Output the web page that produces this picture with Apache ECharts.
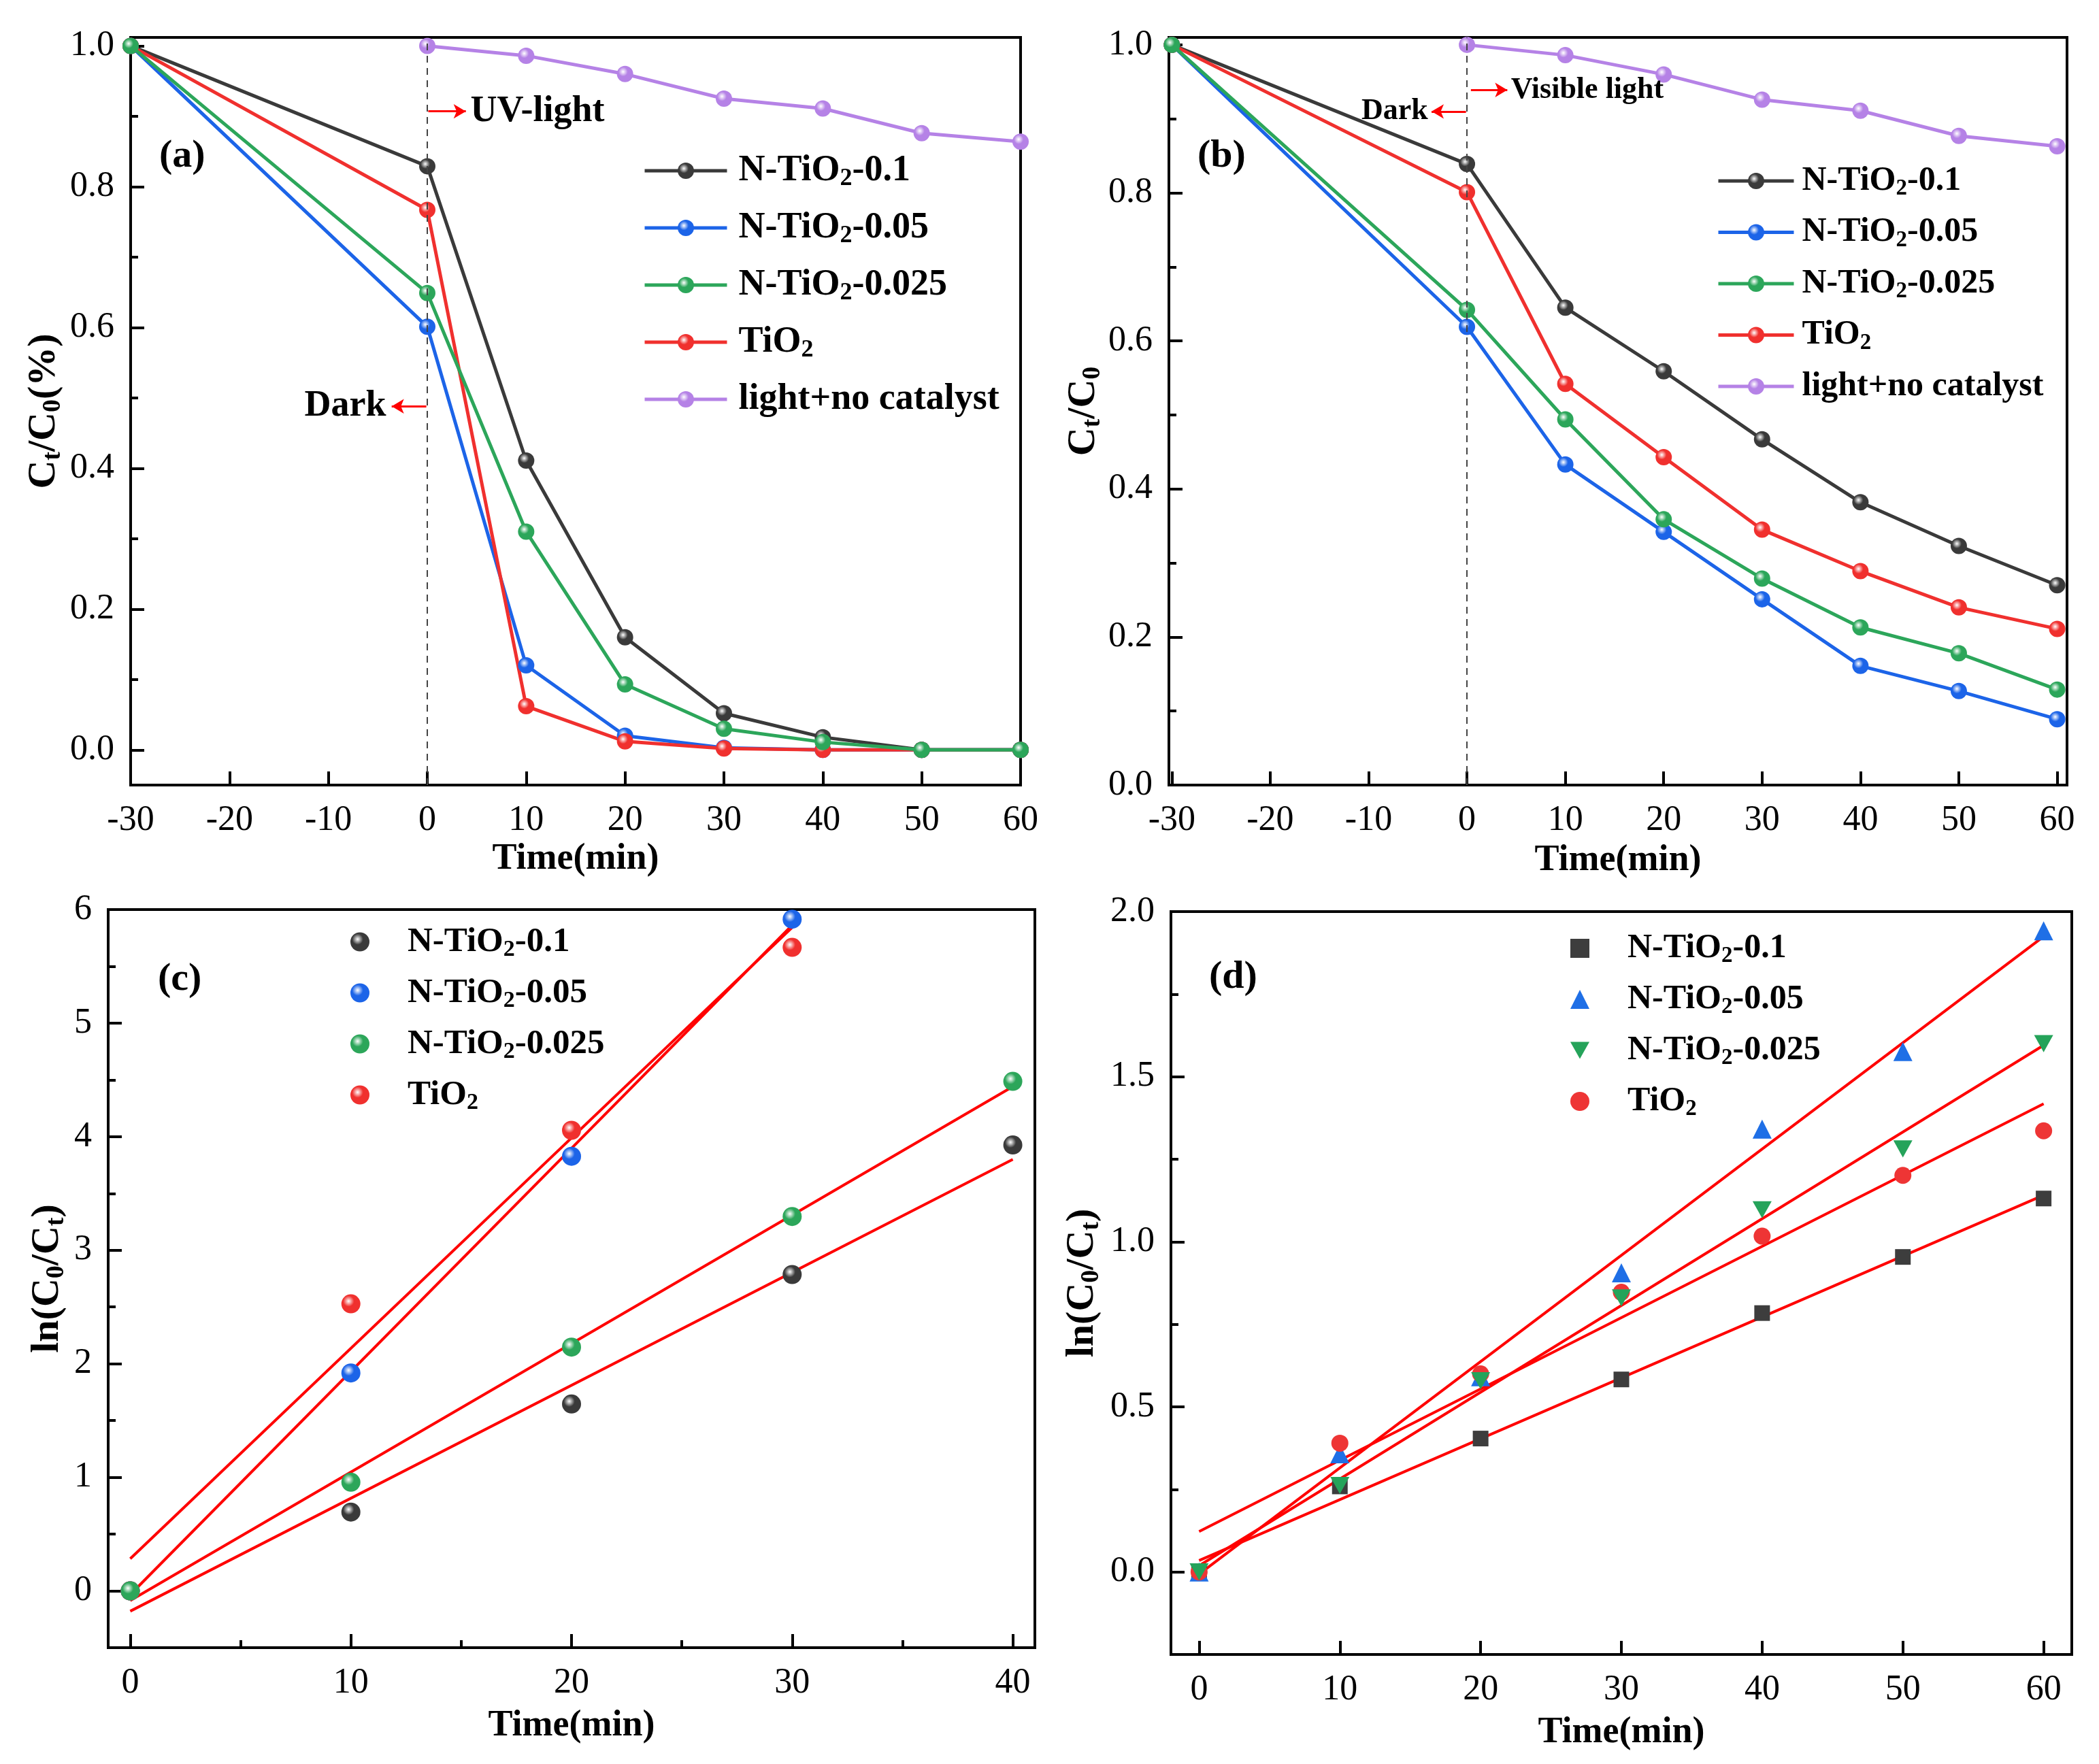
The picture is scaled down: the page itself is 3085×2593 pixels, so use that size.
<!DOCTYPE html>
<html><head><meta charset="utf-8">
<script src="https://cdn.jsdelivr.net/npm/echarts@6/dist/echarts.min.js"></script>
<style>html,body{margin:0;padding:0;background:#fff}#c{width:3085px;height:2593px}</style>
</head><body><div id="c"></div>
<script>
// ---------------- data ----------------
const seriesNames = ['N-TiO2-0.1', 'N-TiO2-0.05', 'N-TiO2-0.025', 'TiO2', 'light+no catalyst'];

// panel (a) UV light
const timeA = [-30, 0, 10, 20, 30, 40, 50, 60];
const aN01 = [1.0, 0.829, 0.411, 0.160, 0.052, 0.018, 0.0, 0.0];
const aN005 = [1.0, 0.601, 0.120, 0.020, 0.003, 0.0, 0.0, 0.0];
const aN0025 = [1.0, 0.649, 0.310, 0.093, 0.030, 0.011, 0.0, 0.0];
const aTiO2 = [1.0, 0.767, 0.062, 0.012, 0.002, 0.0, 0.0, 0.0];
const timeNoCat = [0, 10, 20, 30, 40, 50, 60];
const aNoCat = [1.0, 0.986, 0.960, 0.925, 0.911, 0.876, 0.864];

// panel (b) visible light
const timeB = [-30, 0, 10, 20, 30, 40, 50, 60];
const bN01 = [1.0, 0.839, 0.645, 0.559, 0.467, 0.382, 0.323, 0.270];
const bN005 = [1.0, 0.619, 0.433, 0.342, 0.251, 0.161, 0.127, 0.089];
const bN0025 = [1.0, 0.642, 0.494, 0.359, 0.279, 0.213, 0.178, 0.129];
const bTiO2 = [1.0, 0.801, 0.542, 0.443, 0.345, 0.289, 0.240, 0.211];
const bNoCat = [1.0, 0.986, 0.960, 0.926, 0.911, 0.877, 0.863];

// panel (c) kinetics UV
const timeC4 = [0, 10, 20, 30, 40];
const timeC3 = [0, 10, 20, 30];
const cN01 = [0, 0.694, 1.646, 2.786, 3.927];
const cN005 = [0, 1.919, 3.827, 5.915];
const cN0025 = [0, 0.957, 2.147, 3.297, 4.487];
const cTiO2 = [0, 2.528, 4.056, 5.667];

// panel (d) kinetics visible
const timeD = [0, 10, 20, 30, 40, 50, 60];
const dN01 = [0, 0.259, 0.404, 0.583, 0.784, 0.954, 1.131];
const dN005 = [0, 0.358, 0.591, 0.906, 1.341, 1.576, 1.942];
const dN0025 = [0, 0.262, 0.579, 0.830, 1.097, 1.281, 1.600];
const dTiO2 = [0, 0.390, 0.600, 0.847, 1.017, 1.201, 1.336];

// ticks
const xTicksAB = [-30, -20, -10, 0, 10, 20, 30, 40, 50, 60];
const yTicksAB = [0, 0.2, 0.4, 0.6, 0.8, 1.0];
const yMinorAB = [0.1, 0.3, 0.5, 0.7, 0.9];
const xTicksC = [0, 10, 20, 30, 40];
const xMinorC = [5, 15, 25, 35];
const yTicksC = [0, 1, 2, 3, 4, 5, 6];
const yMinorC = [0.5, 1.5, 2.5, 3.5, 4.5, 5.5];
const xTicksD = [0, 10, 20, 30, 40, 50, 60];
const yTicksD = [0, 0.5, 1.0, 1.5, 2.0];
const yMinorD = [0.25, 0.75, 1.25, 1.75];

// ---------------- style ----------------
const FONT = '"Liberation Serif", "Times New Roman", serif';
const C_BLACK = '#3a3a3a', C_BLUE = '#1c64e8', C_GREEN = '#2ca65a', C_RED = '#f0302e', C_PURPLE = '#b582e6';
const FIT_RED = '#ff0000';
const LW = 5, SYM = 24;

function ball(c) {
  return { type: 'radial', x: 0.38, y: 0.36, r: 0.64,
    colorStops: [{ offset: 0, color: '#ffffff' }, { offset: 0.45, color: c }, { offset: 1, color: c }] };
}
const zip = (xs, ys) => xs.map((x, i) => [x, ys[i]]);
function fitLine(xs, ys) {
  const n = xs.length;
  const mx = xs.reduce((a, b) => a + b, 0) / n, my = ys.reduce((a, b) => a + b, 0) / n;
  let sxx = 0, sxy = 0;
  for (let i = 0; i < n; i++) { sxx += (xs[i] - mx) ** 2; sxy += (xs[i] - mx) * (ys[i] - my); }
  const k = sxy / sxx, b = my - k * mx;
  return [[xs[0], k * xs[0] + b], [xs[n - 1], k * xs[n - 1] + b]];
}
const subRich = (fs) => ({ sub: { fontFamily: FONT, fontSize: Math.round(fs * 0.66), fontWeight: 'bold', color: '#000', lineHeight: Math.round(fs * 0.22), verticalAlign: 'bottom' } });

const grids = [
  { left: 192, top: 55, width: 1308, height: 1099 },
  { left: 1718, top: 55, width: 1320, height: 1099 },
  { left: 159, top: 1337, width: 1362, height: 1085 },
  { left: 1721, top: 1340, width: 1324, height: 1092 }
].map(g => Object.assign(g, { show: true, borderColor: '#000', borderWidth: 4, backgroundColor: 'transparent', containLabel: false, outerBoundsMode: 'none' }));

const xAxes = [], yAxes = [];
function addAxes(list, gi, dim, range, major, minor, fmt, margin, name, nameGap, nameSize) {
  const pos = dim === 'x' ? 'bottom' : 'left';
  list.push({
    type: 'value', gridIndex: gi, min: range[0], max: range[1], position: pos,
    name: name, nameLocation: 'middle', nameGap: nameGap, nameRotate: dim === 'y' ? 90 : 0,
    nameTextStyle: { fontFamily: FONT, fontSize: nameSize, fontWeight: 'bold', color: '#000', lineHeight: nameSize + 6, rich: subRich(nameSize) },
    axisLine: { show: true, onZero: false, lineStyle: { color: '#000', width: 4 } },
    axisTick: { show: true, inside: true, length: 20, customValues: major, lineStyle: { color: '#000', width: 4 } },
    axisLabel: { show: true, customValues: major, margin: margin, formatter: fmt, fontFamily: FONT, fontSize: 52, color: '#000' },
    splitLine: { show: false }, minorTick: { show: false }
  });
  list.push({
    type: 'value', gridIndex: gi, min: range[0], max: range[1], position: pos,
    axisLine: { show: false, onZero: false },
    axisLabel: { show: false }, splitLine: { show: false },
    axisTick: { show: minor.length > 0, inside: true, length: 11, customValues: minor.length ? minor : [range[0]], lineStyle: { color: '#000', width: 4 } }
  });
}
const fInt = v => String(Math.round(v));
const f1 = v => v.toFixed(1);
// (a)
addAxes(xAxes, 0, 'x', [-30, 60], xTicksAB, [], fInt, 26, 'Time(min)', 79, 54);
addAxes(yAxes, 0, 'y', [-0.05, 1.012], yTicksAB, yMinorAB, f1, 24, 'C{sub|t}/C{sub|0}(%)', 95, 58);
// (b)
addAxes(xAxes, 1, 'x', [-30.3, 61], xTicksAB, [], fInt, 26, 'Time(min)', 81, 54);
addAxes(yAxes, 1, 'y', [0, 1.01], yTicksAB, yMinorAB, f1, 24, 'C{sub|t}/C{sub|0}', 91, 58);
// (c)
addAxes(xAxes, 2, 'x', [-1, 41], xTicksC, xMinorC, fInt, 26, 'Time(min)', 85, 54);
addAxes(yAxes, 2, 'y', [-0.5, 6], yTicksC, yMinorC, fInt, 24, 'ln(C{sub|0}/C{sub|t})', 57, 58);
// (d)
addAxes(xAxes, 3, 'x', [-2, 62], xTicksD, [], fInt, 26, 'Time(min)', 85, 54);
addAxes(yAxes, 3, 'y', [-0.25, 2.0], yTicksD, yMinorD, f1, 24, 'ln(C{sub|0}/C{sub|t})', 98, 58);

// ---------------- series ----------------
const series = [];
function lineSeries(prefix, gi, name, xs, ys, color, z) {
  return { type: 'line', name: prefix + name, xAxisIndex: 2 * gi, yAxisIndex: 2 * gi, data: zip(xs, ys),
    symbol: 'circle', symbolSize: SYM, showSymbol: true, z: z || 2,
    lineStyle: { color: color, width: LW }, itemStyle: { color: ball(color) }, emphasis: { disabled: true } };
}
const annoText = (coord, text, pos, fs) => ({ coord: coord, symbol: 'circle', symbolSize: 2, itemStyle: { color: 'rgba(0,0,0,0)' },
  label: { show: true, position: pos, distance: 0, formatter: text, fontFamily: FONT, fontSize: fs, fontWeight: 'bold', color: '#000' } });
const arrowLine = (from, to) => [
  { coord: from, symbol: 'none', lineStyle: { color: '#ff0000', width: 3, type: 'solid' } },
  { coord: to, symbol: 'arrow', symbolSize: [16, 18], lineStyle: { color: '#ff0000', width: 3, type: 'solid' } }
];
const dashed0 = { xAxis: 0, lineStyle: { type: [10, 8], color: '#444', width: 2 } };

// (a)
series.push(lineSeries('a:', 0, seriesNames[0], timeA, aN01, C_BLACK));
series.push(lineSeries('a:', 0, seriesNames[1], timeA, aN005, C_BLUE));
series.push(lineSeries('a:', 0, seriesNames[3], timeA, aTiO2, C_RED));
series.push(lineSeries('a:', 0, seriesNames[2], timeA, aN0025, C_GREEN, 3));
const aPurple = lineSeries('a:', 0, seriesNames[4], timeNoCat, aNoCat, C_PURPLE);
aPurple.markLine = { silent: true, symbol: 'none', animation: false, label: { show: false },
  data: [dashed0, arrowLine([0.1, 0.907], [3.9, 0.907]), arrowLine([-0.1, 0.488], [-3.6, 0.488])] };
aPurple.markPoint = { silent: true, animation: false,
  data: [annoText([4.3, 0.907], 'UV-light', 'right', 54), annoText([-4.1, 0.488], 'Dark', 'left', 54)] };
series.push(aPurple);

// (b)
series.push(lineSeries('b:', 1, seriesNames[0], timeB, bN01, C_BLACK));
series.push(lineSeries('b:', 1, seriesNames[1], timeB, bN005, C_BLUE));
series.push(lineSeries('b:', 1, seriesNames[3], timeB, bTiO2, C_RED));
series.push(lineSeries('b:', 1, seriesNames[2], timeB, bN0025, C_GREEN, 3));
const bPurple = lineSeries('b:', 1, seriesNames[4], timeNoCat, bNoCat, C_PURPLE);
bPurple.markLine = { silent: true, symbol: 'none', animation: false, label: { show: false },
  data: [dashed0, arrowLine([0.4, 0.939], [4.1, 0.939]), arrowLine([-0.1, 0.910], [-3.6, 0.910])] };
bPurple.markPoint = { silent: true, animation: false,
  data: [annoText([4.4, 0.939], 'Visible light', 'right', 44), annoText([-3.9, 0.910], 'Dark', 'left', 44)] };
series.push(bPurple);

// (c)
function scatterSeries(prefix, gi, name, xs, ys, color, symbol, size, z, flat) {
  return { type: 'scatter', name: prefix + name, xAxisIndex: 2 * gi, yAxisIndex: 2 * gi, data: zip(xs, ys),
    symbol: symbol, symbolSize: size, z: z || 3, symbolKeepAspect: true,
    itemStyle: { color: flat ? color : ball(color), opacity: 1 }, emphasis: { disabled: true } };
}
function fitSeries(gi, xs, ys) {
  return { type: 'line', name: 'fit', xAxisIndex: 2 * gi, yAxisIndex: 2 * gi, data: fitLine(xs, ys),
    symbol: 'none', silent: true, z: 2, lineStyle: { color: FIT_RED, width: 4 } };
}
series.push(fitSeries(2, timeC4, cN01), fitSeries(2, timeC3, cN005), fitSeries(2, timeC4, cN0025), fitSeries(2, timeC3, cTiO2));
series.push(scatterSeries('c:', 2, seriesNames[0], timeC4, cN01, C_BLACK, 'circle', 28));
series.push(scatterSeries('c:', 2, seriesNames[1], timeC3, cN005, C_BLUE, 'circle', 28));
series.push(scatterSeries('c:', 2, seriesNames[3], timeC3, cTiO2, C_RED, 'circle', 28));
series.push(scatterSeries('c:', 2, seriesNames[2], timeC4, cN0025, C_GREEN, 'circle', 28, 4));

// (d)
const DOWN_TRI = 'path://M0,0L10,0L5,9Z';
series.push(fitSeries(3, timeD, dN01), fitSeries(3, timeD, dN005), fitSeries(3, timeD, dN0025), fitSeries(3, timeD, dTiO2));
series.push(scatterSeries('d:', 3, seriesNames[0], timeD, dN01, '#3d3d3d', 'rect', 23, 3, true));
series.push(scatterSeries('d:', 3, seriesNames[1], timeD, dN005, '#1f6fe6', 'triangle', 28, 3, true));
series.push(scatterSeries('d:', 3, seriesNames[3], timeD, dTiO2, '#ee3535', 'circle', 25, 3, true));
series.push(scatterSeries('d:', 3, seriesNames[2], timeD, dN0025, '#25a35a', DOWN_TRI, 28, 4, true));

// ---------------- legends ----------------
function mkLegend(prefix, names, left, top, iw, ih, gap, fs, pad) {
  return { orient: 'vertical', left: left, top: top, itemWidth: iw, itemHeight: ih, itemGap: gap, padding: 0,
    selectedMode: false, data: names.map(n => prefix + n),
    lineStyle: { width: LW },
    formatter: n => n.split(':')[1].replace('TiO2', 'TiO{sub|2}'),
    textStyle: { fontFamily: FONT, fontSize: fs, fontWeight: 'bold', color: '#000', lineHeight: fs + 6, padding: [0, 0, 0, pad], rich: subRich(fs) } };
}
const legends = [
  mkLegend('a:', seriesNames, 945, 221, 121, 30, 24, 54, 12),
  mkLegend('b:', seriesNames, 2523, 238, 111, 30, 19.5, 50, 7),
  mkLegend('c:', seriesNames.slice(0, 4), 515, 1356, 28, 28, 18, 51, 51),
  mkLegend('d:', seriesNames.slice(0, 4), 2308, 1366, 28, 28, 19, 50, 51)
];

const panelLabel = (t, x, y) => ({ type: 'text', x: x, y: y, style: { text: t, font: 'bold 58px ' + FONT, fill: '#000', verticalAlign: 'middle', align: 'left' } });

const chart = echarts.init(document.getElementById('c'), null, { renderer: 'canvas' });
chart.setOption({
  animation: false,
  backgroundColor: '#fff',
  grid: grids,
  xAxis: xAxes,
  yAxis: yAxes,
  legend: legends,
  series: series,
  graphic: [panelLabel('(a)', 234, 230), panelLabel('(b)', 1760, 230), panelLabel('(c)', 232, 1440), panelLabel('(d)', 1777, 1437)]
});
</script>
</body></html>
